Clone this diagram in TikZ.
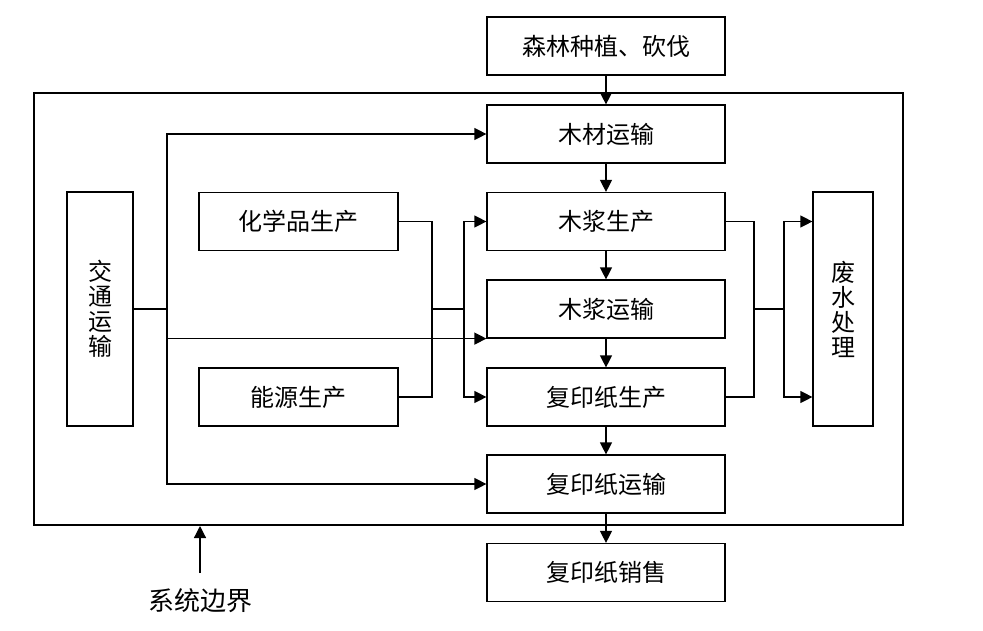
\documentclass[tikz,border=0pt]{standalone}
\usepackage{fontspec}
\usepackage{tikz}
\usetikzlibrary{arrows.meta}
\newfontfamily\cjk{Noto Sans CJK SC}

\begin{document}
\begin{tikzpicture}[
    x=1pt, y=-1pt,
    line width=1.2pt,
    >={Triangle[length=12pt,width=12pt]},
    every node/.style={font=\cjk\fontsize{24}{25}\selectfont, inner sep=0pt},
    box/.style={draw, minimum width=238pt, minimum height=58pt},
    sidebox/.style={draw, minimum width=199pt, minimum height=58pt},
    tallbox/.style={draw, minimum height=234pt, align=center}
]
\useasboundingbox (0,0) rectangle (983,630);

% system boundary
\node[draw, minimum width=869pt, minimum height=432pt] (boundary) at (468.5,309) {};

% main chain
\node[box] (forest) at (606,46) {森林种植、砍伐};
\node[box] (woodtrans) at (606,134) {木材运输};
\node[box] (pulpprod) at (606,221.5) {木浆生产};
\node[box] (pulptrans) at (606,309) {木浆运输};
\node[box] (paperprod) at (606,397) {复印纸生产};
\node[box] (papertrans) at (606,484) {复印纸运输};
\node[box] (papersale) at (606,572.5) {复印纸销售};

% side boxes
\node[tallbox, minimum width=66pt] (transport) at (100,309) {交\\通\\运\\输};
\node[sidebox] (chem) at (298.5,221.5) {化学品生产};
\node[sidebox] (energy) at (298.5,397) {能源生产};
\node[tallbox, minimum width=60pt] (waste) at (843,309) {废\\水\\处\\理};

\node[font=\cjk\fontsize{26}{27}\selectfont] (label) at (200,601) {系统边界};

\coordinate (tj) at (167,309);
\coordinate (cj) at (432,309);
\coordinate (cj2) at (464,309);
\coordinate (rj) at (754,309);
\coordinate (rj2) at (784,309);
\coordinate (ls) at (200,573);
\coordinate (lb) at (200,526);

\draw[->] (forest) -- (woodtrans);
\draw[->] (woodtrans) -- (pulpprod);
\draw[->] (pulpprod) -- (pulptrans);
\draw[->] (pulptrans) -- (paperprod);
\draw[->] (paperprod) -- (papertrans);
\draw[->] (papertrans) -- (papersale);

\draw (transport) -- (tj);
\draw[->] (tj) |- (woodtrans);
\draw[->] (tj) |- (pulptrans.south west);
\draw[->] (tj) |- (papertrans);

\draw (chem) -| (cj);
\draw (energy) -| (cj);
\draw (cj) -- (cj2);
\draw[->] (cj2) |- (pulpprod);
\draw[->] (cj2) |- (paperprod);

\draw (pulpprod) -| (rj);
\draw (paperprod) -| (rj);
\draw (rj) -- (rj2);
\draw[->] (rj2) |- (waste.west |- pulpprod);
\draw[->] (rj2) |- (waste.west |- paperprod);

\draw[->] (ls) -- (lb);
\end{tikzpicture}
\end{document}
